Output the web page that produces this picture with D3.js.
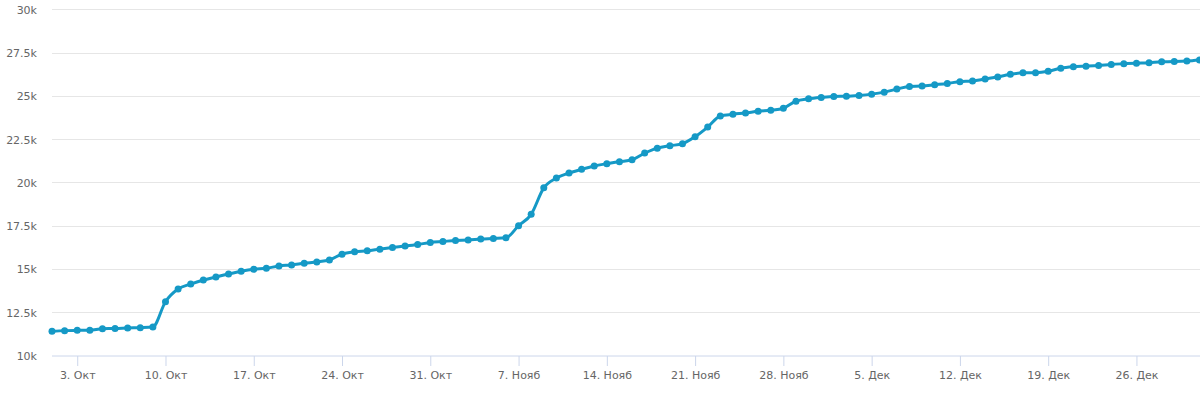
<!DOCTYPE html>
<html>
<head>
<meta charset="utf-8">
<script src="https://cdn.jsdelivr.net/npm/d3@7"></script>
<style>
  html, body { margin: 0; padding: 0; background: #ffffff; }
  svg { display: block; }
  text { font-family: "DejaVu Sans", "Lucida Grande", sans-serif; }
</style>
</head>
<body>
<svg id="chart" width="1200" height="393"></svg>
<script>
// ---- data ----
const startDate = "2016-10-01";
const octValues = [11395, 11437, 11453, 11460, 11552, 11560, 11590, 11610, 11650, 13105,
                   13837, 14128, 14360, 14535, 14709, 14866, 14982, 15040, 15174, 15233,
                   15331, 15407, 15523, 15855, 15988, 16046, 16145, 16238, 16320, 16413,
                   16529];
const novValues = [16587, 16645, 16668, 16727, 16762, 16802, 17500, 18157, 19686, 20250,
                   20541, 20756, 20948, 21081, 21198, 21311, 21692, 21980, 22119, 22234,
                   22640, 23198, 23837, 23936, 24012, 24110, 24169, 24285, 24692, 24826];
const decValues = [24907, 24965, 24975, 25023, 25099, 25215, 25390, 25547, 25568, 25644,
                   25720, 25820, 25860, 25977, 26094, 26247, 26329, 26340, 26423, 26599,
                   26680, 26715, 26756, 26815, 26855, 26890, 26912, 26971, 26980, 27007,
                   27066];
const yTicks = [10000, 12500, 15000, 17500, 20000, 22500, 25000, 27500, 30000];
const yTickLabels = ["10k", "12.5k", "15k", "17.5k", "20k", "22.5k", "25k", "27.5k", "30k"];
const xTickDates = ["2016-10-03", "2016-10-10", "2016-10-17", "2016-10-24", "2016-10-31",
                    "2016-11-07", "2016-11-14", "2016-11-21", "2016-11-28",
                    "2016-12-05", "2016-12-12", "2016-12-19", "2016-12-26"];
const monthNames = ["Янв", "Фев", "Мар", "Апр", "Май", "Июн", "Июл", "Авг", "Сен", "Окт", "Нояб", "Дек"];

(function () {
  // ---- build series ----
  const parse = d3.utcParse("%Y-%m-%d");
  const t0 = parse(startDate);
  const allValues = octValues.concat(novValues, decValues);
  const data = allValues.map((v, i) => ({ date: d3.utcDay.offset(t0, i), value: v }));

  const svg = d3.select("#chart");
  const plotLeft = 52, plotRight = 1199.5, plotTop = 9.3, plotBottom = 355.5;

  const x = d3.scaleUtc()
    .domain([data[0].date, data[data.length - 1].date])
    .range([plotLeft, plotRight]);
  const y = d3.scaleLinear().domain([10000, 30000]).range([plotBottom, plotTop]);

  // grid lines
  svg.append("g").selectAll("line")
    .data(yTicks.filter(d => d !== 10000))
    .join("line")
    .attr("x1", plotLeft).attr("x2", 1200)
    .attr("y1", d => Math.round(y(d)) + 0.5).attr("y2", d => Math.round(y(d)) + 0.5)
    .attr("stroke", "#e6e6e6").attr("stroke-width", 1);

  // y axis labels
  const yAxis = d3.axisLeft(y).tickValues(yTicks)
    .tickFormat((d, i) => yTickLabels[i]).tickSize(0).tickPadding(0);
  const gy = svg.append("g").attr("transform", "translate(37,0)").call(yAxis);
  gy.select(".domain").remove();
  gy.selectAll("text").attr("fill", "#666666").attr("font-size", "11px")
    .attr("dy", "0.36em");

  // x axis
  const xAxis = d3.axisBottom(x)
    .tickValues(xTickDates.map(parse))
    .tickFormat(d => d.getUTCDate() + ". " + monthNames[d.getUTCMonth()])
    .tickSize(10).tickSizeOuter(0).tickPadding(5);
  const gx = svg.append("g").attr("transform", "translate(0," + (plotBottom + 0.5) + ")").call(xAxis);
  gx.select(".domain").attr("stroke", "#ccd6eb").attr("d", "M" + plotLeft + ",0H1200");
  gx.selectAll(".tick line").attr("stroke", "#ccd6eb");
  gx.selectAll("text").attr("fill", "#666666").attr("font-size", "11px");

  // line (smooth, monotone)
  const color = "#1599c6";
  const line = d3.line()
    .x(d => x(d.date)).y(d => y(d.value))
    .curve(d3.curveMonotoneX);
  svg.append("path")
    .datum(data)
    .attr("d", line)
    .attr("fill", "none")
    .attr("stroke", color)
    .attr("stroke-width", 3)
    .attr("stroke-linejoin", "round")
    .attr("stroke-linecap", "round");

  // markers
  svg.append("g").selectAll("circle")
    .data(data)
    .join("circle")
    .attr("cx", d => x(d.date))
    .attr("cy", d => y(d.value))
    .attr("r", 3.5)
    .attr("fill", color);
})();
</script>
</body>
</html>
